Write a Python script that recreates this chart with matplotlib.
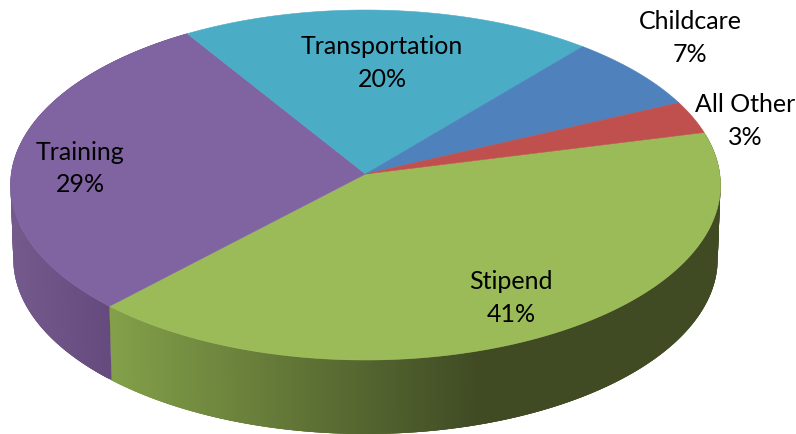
import numpy as np
from matplotlib import pyplot as plt
from matplotlib.colors import to_rgb

labels = ['Stipend', 'Training', 'Transportation', 'Childcare', 'All Other']
values = [41, 29, 20, 7, 3]
colors = ['#9BBB59', '#8064A2', '#4BACC6', '#4F81BD', '#C0504D']
label_x = [511, 80, 382, 690, 745]
label_y = [298, 168.5, 63, 38, 121]

# disc geometry in pixels, with a little perspective (far side is smaller)
apex_x, apex_y = 365.5, 174
rx, ry = 354.3, 174.3
persp = 0.0629
depth = 74
shrink = 0.992
start = 14

plt.rcParams['font.family'] = ['Lato', 'DejaVu Sans']

fig, ax = plt.subplots(figsize=(7.96, 4.34), dpi=100)
ax.set_position([0, 0, 1, 1])
ax.set_xlim(0, 796)
ax.set_ylim(434, 0)
ax.axis('off')

# clockwise angles of the slice borders
edges = start - np.cumsum([0] + values) * 3.6


def rim(deg, xscale=1.0, dy=0):
    a = np.radians(deg)
    s = 1 / (1 + persp * np.sin(a))
    return apex_x + xscale * rx * np.cos(a) * s, apex_y + dy - ry * np.sin(a) * s


def side_color(name, x):
    if name == 'Stipend':
        t = np.clip((x - 112) / (480 - 112), 0, 1)
        a, b = to_rgb('#83A049'), to_rgb('#404B24')
    else:
        t = np.clip((x - 14) / (112 - 14), 0, 1)
        a, b = to_rgb('#73598C'), to_rgb('#654A7D')
    return tuple(a[j] + (b[j] - a[j]) * t for j in range(3))


# side wall, the top face hides the back part of it
# each strip runs under the next one so no seams show
for i, name in enumerate(labels[:2]):
    th = np.arange(edges[i], edges[i + 1], -0.5)
    for a0 in th:
        a1 = max(a0 - 1.5, edges[i + 1])
        arc = np.linspace(a0, a1, 4)
        xt, yt = rim(arc)
        xb, yb = rim(arc[::-1], shrink, depth)
        c = side_color(name, xt[0])
        ax.fill(np.r_[xt, xb], np.r_[yt, yb], color=c, lw=0, zorder=2)

# top face
for i, name in enumerate(labels):
    th = np.linspace(edges[i], edges[i + 1], 200)
    xs, ys = rim(th)
    ax.fill(np.r_[apex_x, xs], np.r_[apex_y, ys], color=colors[i], lw=0.4, zorder=3)

for i, name in enumerate(labels):
    ax.text(label_x[i], label_y[i], f'{name}\n{values[i]}%', ha='center', va='center',
            fontsize=18, color='black', linespacing=1.5, zorder=4)

fig.savefig('out.png', dpi=100)
